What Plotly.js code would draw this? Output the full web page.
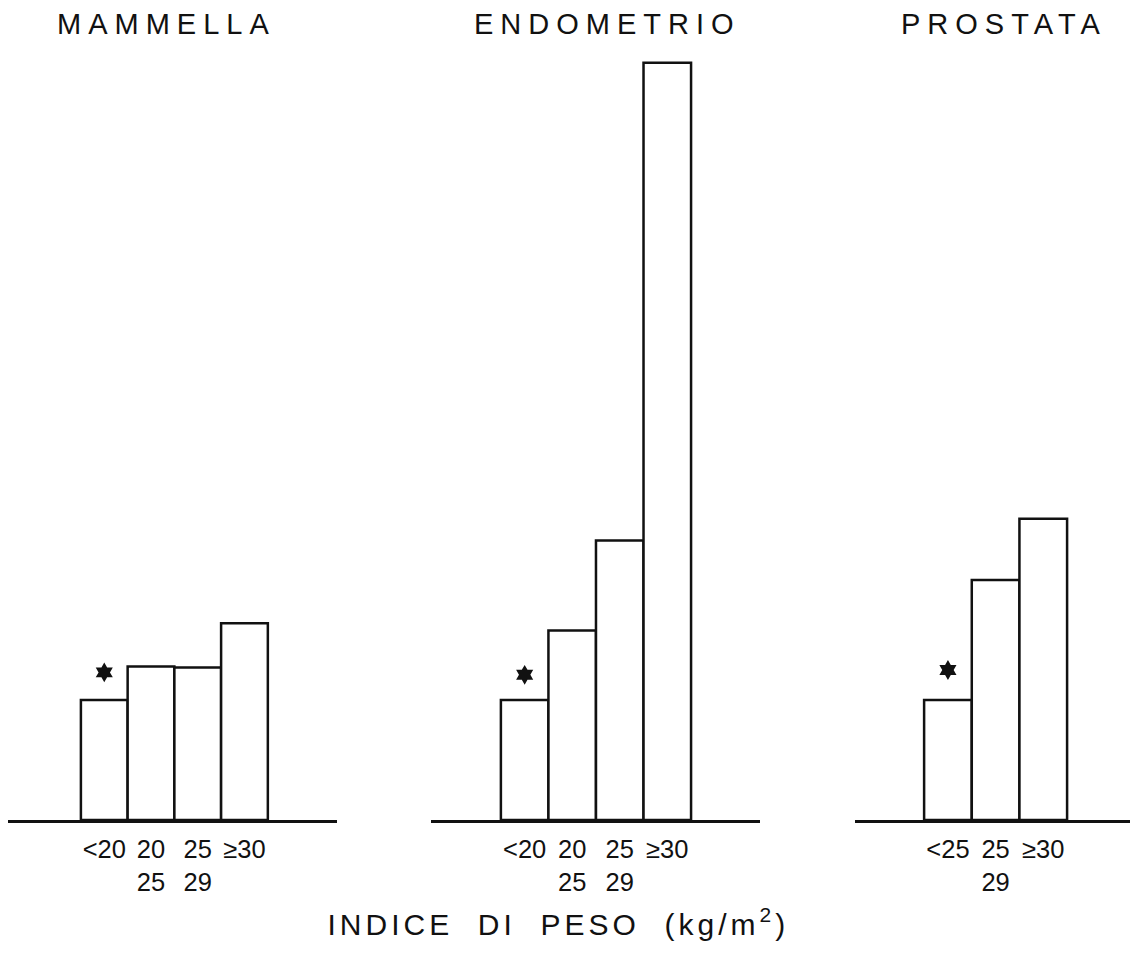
<!DOCTYPE html>
<html><head><meta charset="utf-8">
<script src="https://cdn.plot.ly/plotly-3.0.1.min.js"></script>
<style>
html,body{margin:0;padding:0;background:#fff;}
#chart{width:1130px;height:977px;}
.annotation-text{letter-spacing:7px;}
g.annotation[data-index="3"] .annotation-text{letter-spacing:4px;}
</style></head><body><div id="chart"></div>
<script>
// ---- data ----
const panelTitles = ["MAMMELLA", "ENDOMETRIO", "PROSTATA"];
const mammellaCats = ["&lt;20", "20<br>25", "25<br>29", "≥30"];
const mammellaValues = [1.0, 1.28, 1.27, 1.64];
const endometrioCats = ["&lt;20", "20<br>25", "25<br>29", "≥30"];
const endometrioValues = [1.0, 1.58, 2.33, 6.31];
const prostataCats = ["&lt;25", "25<br>29", "≥30"];
const prostataValues = [1.0, 2.0, 2.51];
const refMarkValues = [1.23, 1.21, 1.25];   // height of the "*" reference mark
const xAxisTitle = "INDICE  DI  PESO  (kg/m<sup>2</sup>)";

// ---- build ----
const W = 1130, H = 977;
const FONT = "Liberation Sans, Arial, sans-serif";
const cats = [mammellaCats, endometrioCats, prostataCats];
const vals = [mammellaValues, endometrioValues, prostataValues];
const domainsPx = [[8, 337], [431, 760], [855, 1130]];
const ranges = [[-2.06, 4.98], [-1.97, 4.95], [-1.95, 3.82]];

const traces = [];
const layout = {
  width: W, height: H,
  margin: {l: 0, r: 0, t: 40, b: 157},
  paper_bgcolor: "#fff", plot_bgcolor: "#fff",
  showlegend: false, bargap: 0,
  font: {family: FONT, color: "#111"},
  annotations: []
};

for (let i = 0; i < 3; i++) {
  const s = i === 0 ? "" : String(i + 1);
  traces.push({
    type: "bar", x: cats[i], y: vals[i],
    xaxis: "x" + s, yaxis: "y" + s,
    marker: {color: "#fff", line: {color: "#111", width: 2.5}},
    hoverinfo: "skip"
  });
  traces.push({
    type: "scatter", mode: "markers",
    x: [cats[i][0]], y: [refMarkValues[i]],
    xaxis: "x" + s, yaxis: "y" + s,
    marker: {symbol: "hexagram", size: 15, color: "#111"},
    hoverinfo: "skip"
  });
  layout["xaxis" + s] = {
    domain: [domainsPx[i][0] / W, domainsPx[i][1] / W],
    type: "category", range: ranges[i],
    showline: true, linecolor: "#111", linewidth: 2.5,
    showgrid: false, zeroline: false, ticks: "",
    ticklabelstandoff: 5,
    tickfont: {family: FONT, size: 25.5, color: "#111"},
    fixedrange: true, anchor: "y" + s
  };
  layout["yaxis" + s] = {
    domain: [0, 1], range: [0, 6.5], visible: false,
    fixedrange: true, anchor: "x" + s
  };
  const titleX = [166, 607, 1004][i];
  layout.annotations.push({
    xref: "paper", yref: "paper",
    x: titleX / W, y: (820 - 24) / 780,
    xanchor: "center", yanchor: "middle",
    text: panelTitles[i], showarrow: false,
    font: {family: FONT, size: 29, color: "#111"}
  });
}
layout.annotations.push({
  xref: "paper", yref: "paper",
  x: 558 / W, y: (820 - 922) / 780,
  xanchor: "center", yanchor: "middle",
  text: xAxisTitle, showarrow: false,
  font: {family: FONT, size: 30, color: "#111"}
});

Plotly.newPlot("chart", traces, layout, {displayModeBar: false, staticPlot: true});
</script></body></html>
